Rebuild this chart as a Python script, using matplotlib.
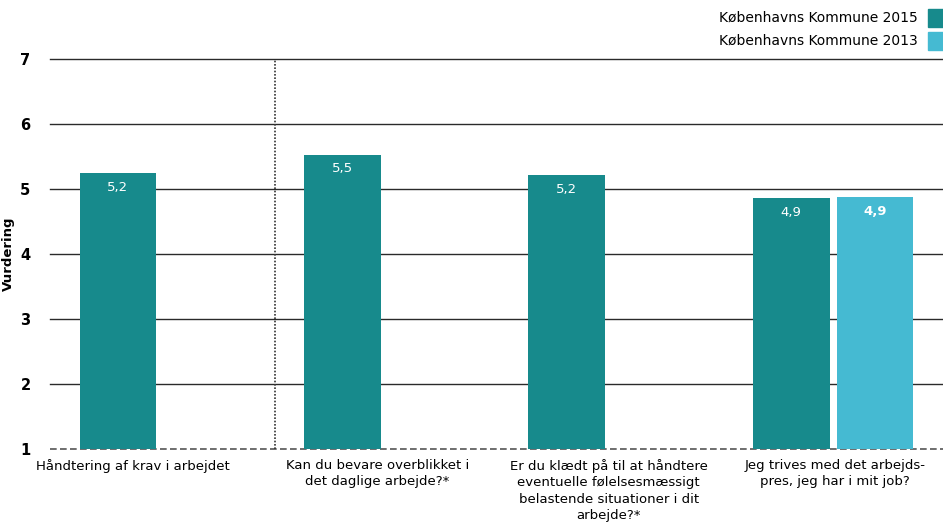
import numpy as np
import matplotlib.pyplot as plt
from matplotlib.patches import Rectangle
from matplotlib.transforms import blended_transform_factory

# survey scores per question
questions = [
    "Håndtering af krav i arbejdet",
    "Kan du bevare overblikket i\ndet daglige arbejde?*",
    "Er du klædt på til at håndtere\neventuelle følelsesmæssigt\nbelastende situationer i dit\narbejde?*",
    "Jeg trives med det arbejds-\npres, jeg har i mit job?",
]
score_2015 = [5.24, 5.53, 5.22, 4.86]
score_2013 = [None, None, None, 4.88]
series_names = ["Københavns Kommune 2015", "Københavns Kommune 2013"]
yticks = [1, 2, 3, 4, 5, 6, 7]

col_2015 = "#178a8c"
col_2013 = "#45bad2"

fig = plt.figure(figsize=(9.43, 5.32), dpi=100)
ax = fig.add_axes([50 / 943, 83 / 532, 1 - 50 / 943, (449 - 59) / 532])

x = np.arange(len(questions))
width = 0.343
off = 0.187

for i in range(len(questions)):
    v = score_2015[i]
    ax.bar(x[i] - off, v - 1, width, bottom=1, color=col_2015, zorder=3)
    ax.text(x[i] - off, v - 0.12, f"{v:.1f}".replace(".", ","), color="white",
            ha="center", va="top", fontsize=9.5, zorder=4)
    v2 = score_2013[i]
    if v2 is not None:
        ax.bar(x[i] + off, v2 - 1, width, bottom=1, color=col_2013, zorder=3)
        ax.text(x[i] + off, v2 - 0.12, f"{v2:.1f}".replace(".", ","), color="white",
                ha="center", va="top", fontsize=9.5, fontweight="bold", zorder=4)

ax.set_xlim(-0.49, 3.49)
ax.set_ylim(1, 7)
ax.set_yticks(yticks)
ax.set_yticklabels([str(t) for t in yticks], fontsize=10.5, fontweight="bold")
for t in yticks[1:]:
    ax.axhline(t, color="#2a2a2a", lw=1.0, zorder=1, clip_on=False)
ax.axhline(1, color="#555555", lw=1.2, ls=(0, (4, 2)), zorder=1, clip_on=False)

# separator between the first question and the rest
ax.axvline(0.513, color="#333333", lw=1.2, ls=(0, (1, 1)), zorder=2)

# category labels under each group
ax.set_xticks([])
label_x = [-0.12, -0.03, 0.0, 0.01]
tr = blended_transform_factory(ax.transData, ax.transAxes)
for i, q in enumerate(questions):
    ax.text(x[i] + label_x[i], -0.025, q, transform=tr, ha="center", va="top",
            fontsize=9.5, linespacing=1.35)

ax.tick_params(axis="both", length=0)
ax.tick_params(axis="y", pad=14)
for s in ax.spines.values():
    s.set_visible(False)
ax.set_ylabel("Vurdering", fontsize=9.5, fontweight="bold", labelpad=4)

# legend in the top right corner
legend_y = [18, 41]
for name, col, yy in zip(series_names, [col_2015, col_2013], legend_y):
    fig.text(918 / 943, 1 - yy / 532, name, ha="right", va="center", fontsize=10)
    fig.patches.append(Rectangle((928 / 943, 1 - (yy + 9) / 532), 20 / 943, 18 / 532,
                                 transform=fig.transFigure, color=col, figure=fig))

fig.savefig("out.png", dpi=100)
